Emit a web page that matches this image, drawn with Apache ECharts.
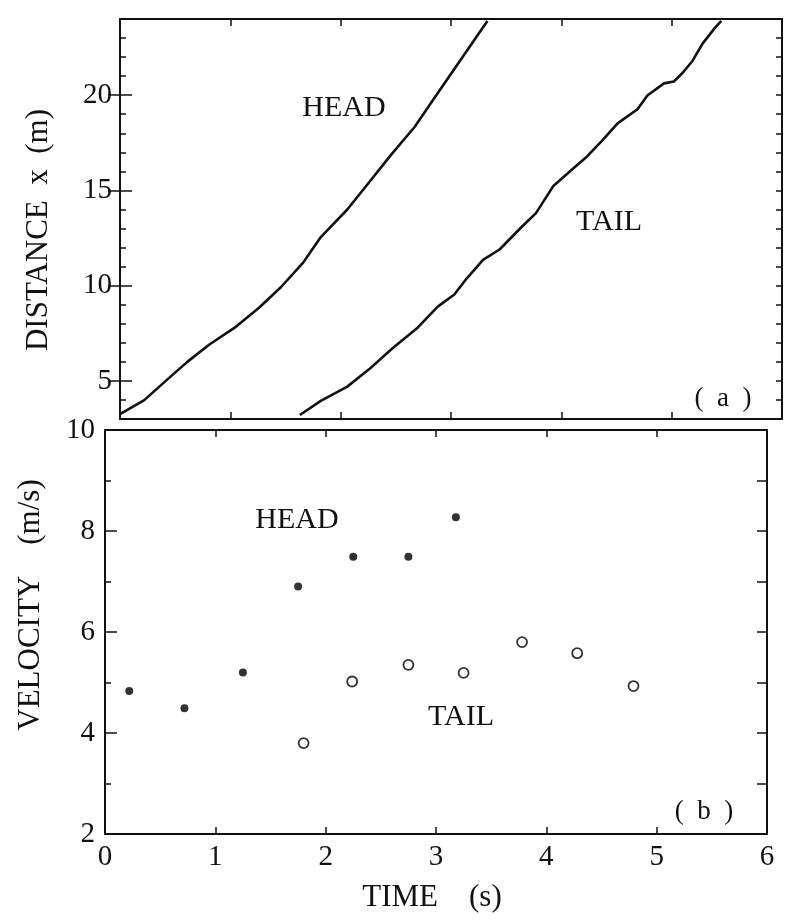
<!DOCTYPE html>
<html><head><meta charset="utf-8">
<script src="https://cdn.jsdelivr.net/npm/echarts@6/dist/echarts.min.js"></script>
<style>html,body{margin:0;padding:0;background:#fff}#c{width:789px;height:922px}</style>
</head><body><div id="c"></div>
<script>
// ---- data ----
const timeTicks = [0, 1, 2, 3, 4, 5, 6];
const headDistT = [0.0, 0.22, 0.43, 0.61, 0.81, 1.05, 1.26, 1.46, 1.66, 1.82, 2.06, 2.26, 2.46, 2.67, 2.84, 3.01, 3.18, 3.33];
const headDistX = [3.25, 3.99, 5.08, 6.0, 6.91, 7.84, 8.84, 9.93, 11.21, 12.55, 14.0, 15.44, 16.89, 18.33, 19.77, 21.21, 22.64, 23.9];
const tailDistT = [1.63, 1.82, 2.06, 2.26, 2.47, 2.70, 2.88, 3.03, 3.14, 3.29, 3.44, 3.64, 3.77, 3.93, 4.11, 4.22, 4.37, 4.51, 4.69, 4.78, 4.93, 5.02, 5.10, 5.19, 5.28, 5.39, 5.45];
const tailDistX = [3.21, 3.95, 4.70, 5.62, 6.71, 7.81, 8.90, 9.54, 10.36, 11.35, 11.90, 13.08, 13.81, 15.25, 16.16, 16.71, 17.61, 18.52, 19.26, 19.98, 20.62, 20.72, 21.18, 21.81, 22.71, 23.52, 23.9];
const headVelT = [0.22, 0.72, 1.25, 1.75, 2.25, 2.75, 3.18];
const headVel = [4.83, 4.49, 5.20, 6.90, 7.49, 7.49, 8.27];
const tailVelT = [1.80, 2.24, 2.75, 3.25, 3.78, 4.28, 4.79];
const tailVel = [3.80, 5.02, 5.35, 5.19, 5.80, 5.58, 4.93];
const distRange = [3, 24];
const distMajorTicks = [5, 10, 15, 20];
const velRange = [2, 10];
const velMajorStep = 2;

// ---- chart ----
const FONT = '"Liberation Serif", "DejaVu Serif", serif';
const INK = '#111';
const zip = (a, b) => a.map((v, i) => [v, b[i]]);

function xAx(grid, pos, labels) {
  return {
    type: 'value', gridIndex: grid, position: pos, min: timeTicks[0], max: timeTicks[timeTicks.length - 1], interval: 1,
    axisLine: { show: true, onZero: false, lineStyle: { color: INK, width: 2 } },
    axisTick: { show: true, inside: true, length: 7, lineStyle: { color: INK, width: 1.5 } },
    axisLabel: { show: labels, margin: 9, color: INK, fontFamily: FONT, fontSize: 29 },
    splitLine: { show: false }
  };
}
function yAx(grid, pos, range, opts) {
  return Object.assign({
    type: 'value', gridIndex: grid, position: pos, min: range[0], max: range[1],
    axisLine: { show: true, onZero: false, lineStyle: { color: INK, width: 2 } },
    axisTick: { show: true, inside: true, length: 6, lineStyle: { color: INK, width: 1.5 } },
    axisLabel: { show: false },
    splitLine: { show: false }
  }, opts);
}

const option = {
  backgroundColor: '#fff',
  animation: false,
  grid: [
    { left: 120, top: 19, width: 662, height: 400 },
    { left: 105, top: 430, width: 662, height: 404 }
  ],
  xAxis: [
    xAx(0, 'bottom', false),
    xAx(0, 'top', false),
    xAx(1, 'bottom', true),
    xAx(1, 'top', false)
  ],
  yAxis: [
    yAx(0, 'left', distRange, { interval: 1 }),
    yAx(0, 'left', distRange, {
      axisLine: { show: false },
      axisTick: { show: true, inside: true, length: 12, customValues: distMajorTicks, lineStyle: { color: INK, width: 1.5 } },
      axisLabel: { show: true, customValues: distMajorTicks, margin: 8, color: INK, fontFamily: FONT, fontSize: 29 }
    }),
    yAx(0, 'right', distRange, { interval: 1 }),
    yAx(0, 'right', distRange, {
      axisLine: { show: false },
      axisTick: { show: true, inside: true, length: 12, customValues: distMajorTicks, lineStyle: { color: INK, width: 1.5 } }
    }),
    yAx(1, 'left', velRange, { interval: 1 }),
    yAx(1, 'left', velRange, {
      interval: velMajorStep,
      axisLine: { show: false },
      axisTick: { show: true, inside: true, length: 12, lineStyle: { color: INK, width: 1.5 } },
      axisLabel: { show: true, margin: 10, color: INK, fontFamily: FONT, fontSize: 29 }
    }),
    yAx(1, 'right', velRange, {
      interval: 1,
      axisTick: { show: true, inside: true, length: 10, lineStyle: { color: INK, width: 1.5 } }
    })
  ],
  series: [
    { name: 'HEAD x', type: 'line', xAxisIndex: 0, yAxisIndex: 0, data: zip(headDistT, headDistX),
      showSymbol: false, symbol: 'none', lineStyle: { color: INK, width: 2.6 } },
    { name: 'TAIL x', type: 'line', xAxisIndex: 0, yAxisIndex: 0, data: zip(tailDistT, tailDistX),
      showSymbol: false, symbol: 'none', lineStyle: { color: INK, width: 2.6 } },
    { name: 'HEAD v', type: 'scatter', xAxisIndex: 2, yAxisIndex: 4, data: zip(headVelT, headVel),
      symbol: 'circle', symbolSize: 8, itemStyle: { color: '#000' } },
    { name: 'TAIL v', type: 'scatter', xAxisIndex: 2, yAxisIndex: 4, data: zip(tailVelT, tailVel),
      symbol: 'circle', symbolSize: 10, itemStyle: { color: '#fff', borderColor: '#000', borderWidth: 1.8 } }
  ],
  graphic: [
    { type: 'text', x: 344, y: 108, style: { text: 'HEAD', fill: INK, font: '30px ' + FONT, align: 'center', verticalAlign: 'middle' } },
    { type: 'text', x: 609, y: 222, style: { text: 'TAIL', fill: INK, font: '30px ' + FONT, align: 'center', verticalAlign: 'middle' } },
    { type: 'text', x: 723, y: 399, style: { text: '(\u00a0 a \u00a0)', fill: INK, font: '27px ' + FONT, align: 'center', verticalAlign: 'middle' } },
    { type: 'text', x: 297, y: 520, style: { text: 'HEAD', fill: INK, font: '30px ' + FONT, align: 'center', verticalAlign: 'middle' } },
    { type: 'text', x: 461, y: 717, style: { text: 'TAIL', fill: INK, font: '30px ' + FONT, align: 'center', verticalAlign: 'middle' } },
    { type: 'text', x: 704, y: 812, style: { text: '(\u00a0 b \u00a0)', fill: INK, font: '27px ' + FONT, align: 'center', verticalAlign: 'middle' } },
    { type: 'text', x: 39, y: 230, rotation: Math.PI / 2, style: { text: 'DISTANCE\u00a0 x \u00a0(m)', fill: INK, font: '31px ' + FONT, align: 'center', verticalAlign: 'middle' } },
    { type: 'text', x: 31, y: 605, rotation: Math.PI / 2, style: { text: 'VELOCITY\u00a0\u00a0\u00a0 (m/s)', fill: INK, font: '31px ' + FONT, align: 'center', verticalAlign: 'middle' } },
    { type: 'text', x: 432, y: 898, style: { text: 'TIME\u00a0\u00a0\u00a0 (s)', fill: INK, font: '31px ' + FONT, align: 'center', verticalAlign: 'middle' } }
  ]
};
const chart = echarts.init(document.getElementById('c'), null, { renderer: 'canvas' });
chart.setOption(option);
</script></body></html>
